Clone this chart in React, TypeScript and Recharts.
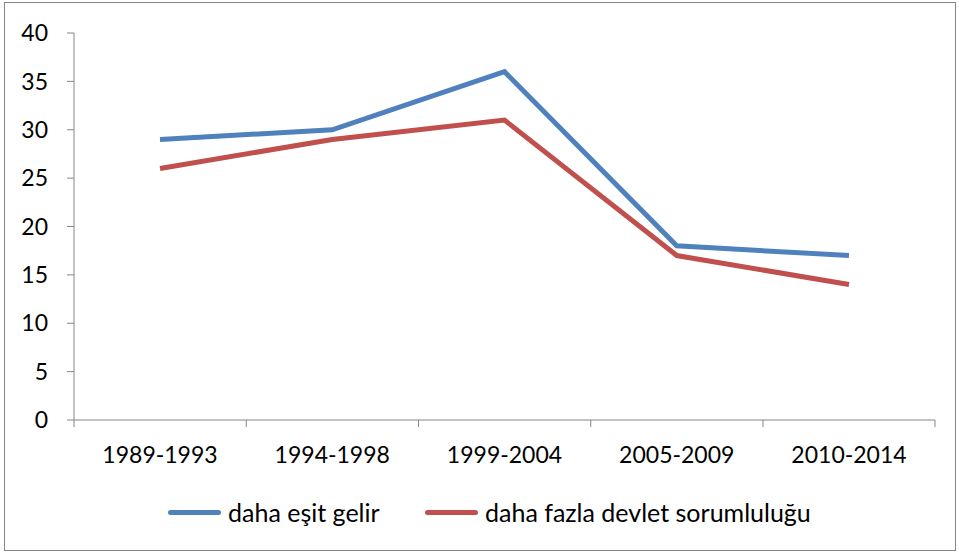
import React from "react";
import { LineChart, Line, XAxis, YAxis } from "recharts";

// values
const periods = ["1989-1993", "1994-1998", "1999-2004", "2005-2009", "2010-2014"];
const equalIncome = [29, 30, 36, 18, 17];
const stateResponsibility = [26, 29, 31, 17, 14];
const yTicks = [0, 5, 10, 15, 20, 25, 30, 35, 40];

const seriesNames = {
  equalIncome: "daha eşit gelir",
  stateResponsibility: "daha fazla devlet sorumluluğu",
};

const BLUE = "#4F81BD";
const RED = "#C0504D";
const AXIS = "#868686";
const FONT = "Lato, 'Open Sans', sans-serif";

const data = periods.map((period, i) => ({
  period,
  equalIncome: equalIncome[i],
  stateResponsibility: stateResponsibility[i],
}));

const HALF_BAND = 86;
const TICK_SIZE = 7;
const TICK_MARGIN = 20;

// excel style: tick marks sit between categories, labels centred in the band
const CategoryTick = ({ x, y, payload, index }: any) => {
  const axisY = y - TICK_SIZE - TICK_MARGIN;
  return (
    <g>
      <line x1={x - HALF_BAND} x2={x - HALF_BAND} y1={axisY} y2={axisY + TICK_SIZE} stroke={AXIS} />
      {index === periods.length - 1 && (
        <line x1={x + HALF_BAND} x2={x + HALF_BAND} y1={axisY} y2={axisY + TICK_SIZE} stroke={AXIS} />
      )}
      <text x={x} y={y + 16} textAnchor="middle" fill="#000" fontSize={23} fontFamily={FONT}>
        {payload.value}
      </text>
    </g>
  );
};

const LegendItem = ({ color, label, left }: { color: string; label: string; left: number }) => (
  <div style={{ position: "absolute", left, top: 0, display: "flex", alignItems: "center", whiteSpace: "nowrap" }}>
    <div style={{ width: 53, height: 5, borderRadius: 3, background: color, marginRight: 7 }} />
    <span>{label}</span>
  </div>
);

export default function App() {
  return (
    <div style={{ position: "absolute", left: 0, top: 0, width: 959, height: 552, background: "#fff" }}>
      <style>{"body{margin:0}"}</style>
      <div
        style={{
          position: "absolute",
          left: 4,
          top: 2,
          width: 950,
          height: 547,
          border: `1px solid ${AXIS}`,
        }}
      />
      <LineChart
        width={959}
        height={552}
        data={data}
        margin={{ top: 33, right: 24, bottom: 92, left: 0 }}
        style={{ position: "absolute", left: 0, top: 0 }}
      >
        <XAxis
          dataKey="period"
          height={40}
          padding={{ left: HALF_BAND, right: HALF_BAND }}
          axisLine={{ stroke: AXIS }}
          tickLine={false}
          tickSize={TICK_SIZE}
          tickMargin={TICK_MARGIN}
          tick={<CategoryTick />}
          interval={0}
        />
        <YAxis
          width={74}
          domain={[0, 40]}
          ticks={yTicks}
          interval={0}
          axisLine={{ stroke: AXIS }}
          tickLine={{ stroke: AXIS }}
          tickSize={7}
          tickMargin={19}
          tick={{ fill: "#000", fontSize: 23, fontFamily: FONT }}
        />
        <Line
          dataKey="equalIncome"
          name={seriesNames.equalIncome}
          stroke={BLUE}
          strokeWidth={5}
          dot={false}
          isAnimationActive={false}
        />
        <Line
          dataKey="stateResponsibility"
          name={seriesNames.stateResponsibility}
          stroke={RED}
          strokeWidth={5}
          dot={false}
          isAnimationActive={false}
        />
      </LineChart>
      <div
        style={{
          position: "absolute",
          left: 0,
          top: 496,
          width: 959,
          height: 32,
          fontFamily: FONT,
          fontSize: 25,
          color: "#000",
          lineHeight: "32px",
        }}
      >
        <LegendItem color={BLUE} label={seriesNames.equalIncome} left={168} />
        <LegendItem color={RED} label={seriesNames.stateResponsibility} left={425} />
      </div>
    </div>
  );
}
